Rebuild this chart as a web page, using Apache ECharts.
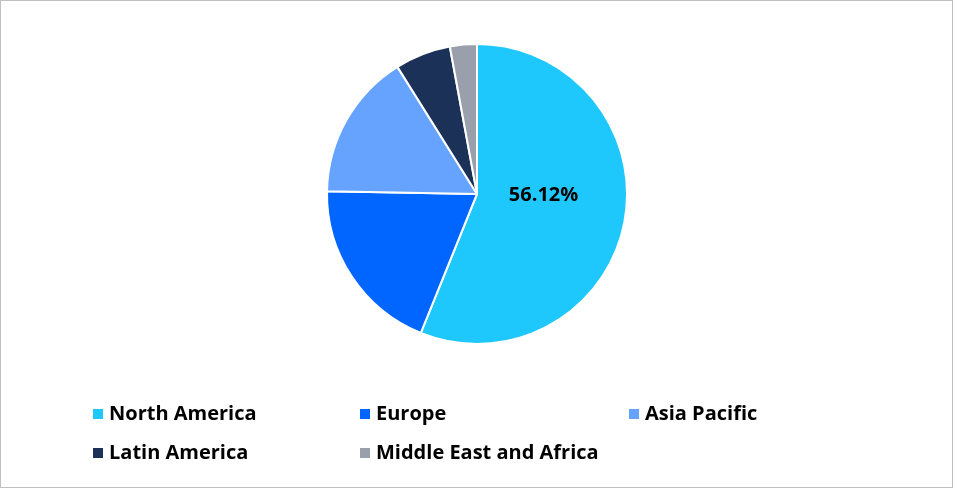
<!DOCTYPE html>
<html>
<head>
<meta charset="utf-8">
<script src="https://cdn.jsdelivr.net/npm/echarts@6/dist/echarts.min.js"></script>
<style>
html, body { margin: 0; padding: 0; background: #fff; }
#main { width: 951px; height: 486px; border: 1px solid #bfbfbf; }
</style>
</head>
<body>
<div id="main"></div>
<script>
var regions = ['North America', 'Europe', 'Asia Pacific', 'Latin America', 'Middle East and Africa'];
var shares = [56.12, 19.18, 15.8, 6.0, 2.9];
var colors = ['#1ec8fc', '#0066ff', '#66a3ff', '#1b3157', '#9aa0ab'];

var myChart = echarts.init(document.getElementById('main'));

// one legend per cell so the columns line up like the reference
var colX = [85, 352, 621];
var rowY = [398, 437];
var legends = regions.map(function (name, i) {
    return {
        data: [name],
        left: colX[i % 3], top: rowY[Math.floor(i / 3)],
        icon: 'rect', itemWidth: 12, itemHeight: 12, itemGap: 6,
        textStyle: { fontFamily: 'Open Sans', fontWeight: 'bold', fontSize: 20, color: '#000' }
    };
});

myChart.setOption({
    color: colors,
    legend: legends,
    series: [{
        type: 'pie',
        center: [476, 193],
        radius: 150,
        startAngle: 90,
        clockwise: true,
        animation: false,
        itemStyle: { borderColor: '#fff', borderWidth: 2 },
        label: { show: false },
        labelLine: { show: false },
        data: regions.map(function (name, i) {
            var item = { name: name, value: shares[i] };
            if (i === 0) {
                item.label = {
                    show: true,
                    position: 'inside',
                    offset: [-10, -14],
                    formatter: shares[0].toFixed(2) + '%',
                    fontFamily: 'Open Sans',
                    fontWeight: 'bold',
                    fontSize: 20,
                    color: '#000'
                };
            }
            return item;
        })
    }]
});
</script>
</body>
</html>
